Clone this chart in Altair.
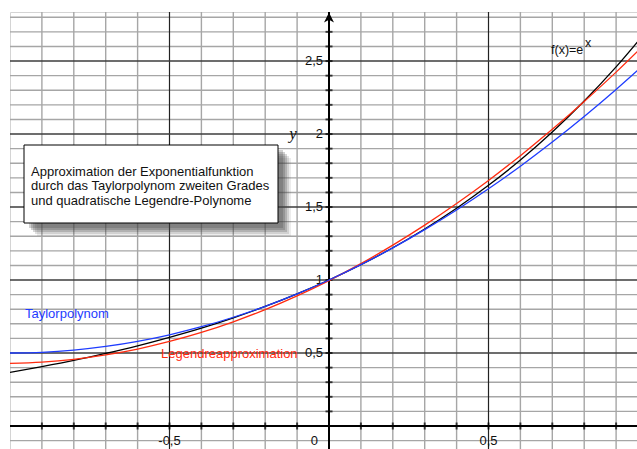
import altair as alt
import pandas as pd

# Sample abscissae and the three curves on [-1, 1]
x_pts = [-1.0, -0.9, -0.8, -0.7, -0.6, -0.5, -0.4, -0.3, -0.2, -0.1, 0.0,
         0.1, 0.2, 0.3, 0.4, 0.5, 0.6, 0.7, 0.8, 0.9, 1.0]
exp_vals = [0.368, 0.407, 0.449, 0.497, 0.549, 0.607, 0.670, 0.741, 0.819, 0.905, 1.000,
            1.105, 1.221, 1.350, 1.492, 1.649, 1.822, 2.014, 2.226, 2.460, 2.718]
taylor_vals = [0.500, 0.505, 0.520, 0.545, 0.580, 0.625, 0.680, 0.745, 0.820, 0.905, 1.000,
               1.105, 1.220, 1.345, 1.480, 1.625, 1.780, 1.945, 2.120, 2.305, 2.500]
legendre_vals = [0.429, 0.438, 0.457, 0.487, 0.527, 0.579, 0.641, 0.714, 0.797, 0.891, 0.996,
                 1.112, 1.239, 1.376, 1.524, 1.682, 1.852, 2.032, 2.223, 2.424, 2.637]

# Grid and tick positions
minor_x = [-0.9, -0.8, -0.7, -0.6, -0.4, -0.3, -0.2, -0.1, 0.1, 0.2, 0.3, 0.4, 0.6, 0.7, 0.8, 0.9]
major_x = [-0.5, 0.5]
minor_y = [-0.1, 0.1, 0.2, 0.3, 0.4, 0.6, 0.7, 0.8, 0.9, 1.1, 1.2, 1.3, 1.4, 1.6, 1.7, 1.8, 1.9,
           2.1, 2.2, 2.3, 2.4, 2.6, 2.7, 2.8]
major_y = [0.5, 1.0, 1.5, 2.0, 2.5]
tick_x = [-0.9, -0.8, -0.7, -0.6, -0.5, -0.4, -0.3, -0.2, -0.1, 0.1, 0.2, 0.3, 0.4, 0.5, 0.6, 0.7, 0.8, 0.9]
tick_y = [0.1, 0.2, 0.3, 0.4, 0.5, 0.6, 0.7, 0.8, 0.9, 1.0, 1.1, 1.2, 1.3, 1.4, 1.5, 1.6, 1.7,
          1.8, 1.9, 2.0, 2.1, 2.2, 2.3, 2.4, 2.5, 2.6, 2.7]
y_label_vals = [0.5, 1.0, 1.5, 2.0, 2.5]
y_label_text = ["0,5", "1", "1,5", "2", "2,5"]
x_label_vals = [-0.5, 0.5]
x_label_text = ["-0,5", "0,5"]

box_lines = ["Approximation der Exponentialfunktion",
             "durch das Taylorpolynom zweiten Grades",
             "und quadratische Legendre-Polynome"]

FONT = "Liberation Sans"
W, H = 627, 437
xs = alt.Scale(domain=[-1.0, 0.9655], nice=False, zero=False)
ys = alt.Scale(domain=[-0.1575, 2.836], nice=False, zero=False)

one = pd.DataFrame({"k": [0]})


def vrules(vals, color, width):
    return alt.Chart(pd.DataFrame({"v": vals})).mark_rule(
        color=color, strokeWidth=width
    ).encode(x=alt.X("v:Q", scale=xs, axis=None))


def hrules(vals, color, width):
    return alt.Chart(pd.DataFrame({"v": vals})).mark_rule(
        color=color, strokeWidth=width
    ).encode(y=alt.Y("v:Q", scale=ys, axis=None))


grid = [
    vrules(minor_x, "#a6a6a6", 1.4),
    hrules(minor_y, "#a6a6a6", 1.4),
    vrules(major_x, "#222222", 1.2),
    hrules(major_y, "#3c3c3c", 1.4),
    vrules([0.0], "#000000", 2),
    hrules([0.0], "#000000", 2),
]

ticks_y = alt.Chart(pd.DataFrame({"v": tick_y, "z": [0.0] * len(tick_y)})).mark_tick(
    orient="horizontal", color="#000000", size=7, thickness=2
).encode(x=alt.X("z:Q", scale=xs, axis=None), y=alt.Y("v:Q", scale=ys, axis=None))

ticks_x = alt.Chart(pd.DataFrame({"v": tick_x, "z": [0.0] * len(tick_x)})).mark_tick(
    orient="vertical", color="#000000", size=7, thickness=2
).encode(x=alt.X("v:Q", scale=xs, axis=None), y=alt.Y("z:Q", scale=ys, axis=None))

# arrowhead on top of the vertical axis
arrow = alt.Chart(one).mark_point(
    shape="M0,-1 L1,1 L0,0.45 L-1,1 Z", filled=True, color="#000000", opacity=1, size=100
).encode(x=alt.X("z:Q", scale=xs, axis=None), y=alt.value(5.5)).transform_calculate(z="0")

y_labels = alt.Chart(pd.DataFrame({"v": y_label_vals, "t": y_label_text, "z": [0.0] * 5})).mark_text(
    align="right", baseline="middle", dx=-6, font=FONT, fontSize=13, color="#111111"
).encode(x=alt.X("z:Q", scale=xs, axis=None), y=alt.Y("v:Q", scale=ys, axis=None), text="t:N")

x_labels = alt.Chart(pd.DataFrame({"v": x_label_vals, "t": x_label_text,
                                   "z": [0.0] * 2})).mark_text(
    baseline="middle", dy=15, font=FONT, fontSize=13, color="#111111"
).encode(x=alt.X("v:Q", scale=xs, axis=None), y=alt.Y("z:Q", scale=ys, axis=None), text="t:N")

# the "0" at the origin sits left of the vertical axis
origin_label = alt.Chart(pd.DataFrame({"t": ["0"], "z": [0.0]})).mark_text(
    align="right", baseline="middle", dx=-11, dy=15, font=FONT, fontSize=13, color="#111111"
).encode(x=alt.X("z:Q", scale=xs, axis=None), y=alt.Y("z:Q", scale=ys, axis=None), text="t:N")

y_name = alt.Chart(one).mark_text(
    font="Liberation Serif", fontStyle="italic", fontSize=17, color="#111111",
    align="center", baseline="middle"
).encode(x=alt.value(283), y=alt.value(122), text=alt.value("y"))

curves_df = pd.DataFrame({
    "x": x_pts * 3,
    "y": exp_vals + taylor_vals + legendre_vals,
    "f": ["exp"] * 21 + ["taylor"] * 21 + ["legendre"] * 21,
})


def curve(name, color):
    return alt.Chart(curves_df).transform_filter(alt.datum.f == name).mark_line(
        color=color, strokeWidth=1.3, interpolate="monotone", clip=True
    ).encode(x=alt.X("x:Q", scale=xs, axis=None), y=alt.Y("y:Q", scale=ys, axis=None))


curves = [curve("exp", "#000000"), curve("legendre", "#ff2b0f"), curve("taylor", "#1e3cff")]

labels = [
    alt.Chart(one).mark_text(align="left", baseline="middle", font=FONT, fontSize=13,
                             color="#1e3cff").encode(
        x=alt.value(15), y=alt.value(302), text=alt.value("Taylorpolynom")),
    alt.Chart(one).mark_text(align="left", baseline="middle", font=FONT, fontSize=13,
                             color="#ff2b0f").encode(
        x=alt.value(151), y=alt.value(342), text=alt.value("Legendreapproximation")),
    alt.Chart(one).mark_text(align="left", baseline="middle", font=FONT, fontSize=12.5,
                             color="#111111").encode(
        x=alt.value(541), y=alt.value(38), text=alt.value("f(x)=e")),
    alt.Chart(one).mark_text(align="left", baseline="middle", font=FONT, fontSize=12.5,
                             color="#111111").encode(
        x=alt.value(575), y=alt.value(31), text=alt.value("x")),
]

# framed caption with a soft drop shadow
BX0, BX1, BY0, BY1 = 14, 268, 133, 211
shadow = [
    alt.Chart(one).mark_rect(fill="#444444", opacity=op).encode(
        x=alt.value(BX0 + d), x2=alt.value(BX1 + d), y=alt.value(BY0 + d), y2=alt.value(BY1 + d))
    for d, op in [(5, 0.25), (7, 0.25), (9, 0.22), (11, 0.16), (13, 0.1)]
]
box = alt.Chart(one).mark_rect(fill="#ffffff", stroke="#000000", strokeWidth=1).encode(
    x=alt.value(BX0), x2=alt.value(BX1), y=alt.value(BY0), y2=alt.value(BY1))
box_text = [
    alt.Chart(one).mark_text(align="left", baseline="middle", font=FONT, fontSize=13,
                             color="#111111").encode(
        x=alt.value(21), y=alt.value(160 + 14.3 * i), text=alt.value(line))
    for i, line in enumerate(box_lines)
]

chart = alt.layer(
    *grid, ticks_y, ticks_x, arrow, y_labels, x_labels, origin_label, y_name,
    *curves, *labels, *shadow, box, *box_text
).properties(
    width=W, height=H,
    autosize=alt.AutoSizeParams(type="none"),
    padding={"left": 10, "top": 12, "right": 0, "bottom": 0},
).configure_view(stroke="#d4d4d4", strokeWidth=1)

chart.save("out.html", embed_options={"renderer": "svg", "actions": False})
